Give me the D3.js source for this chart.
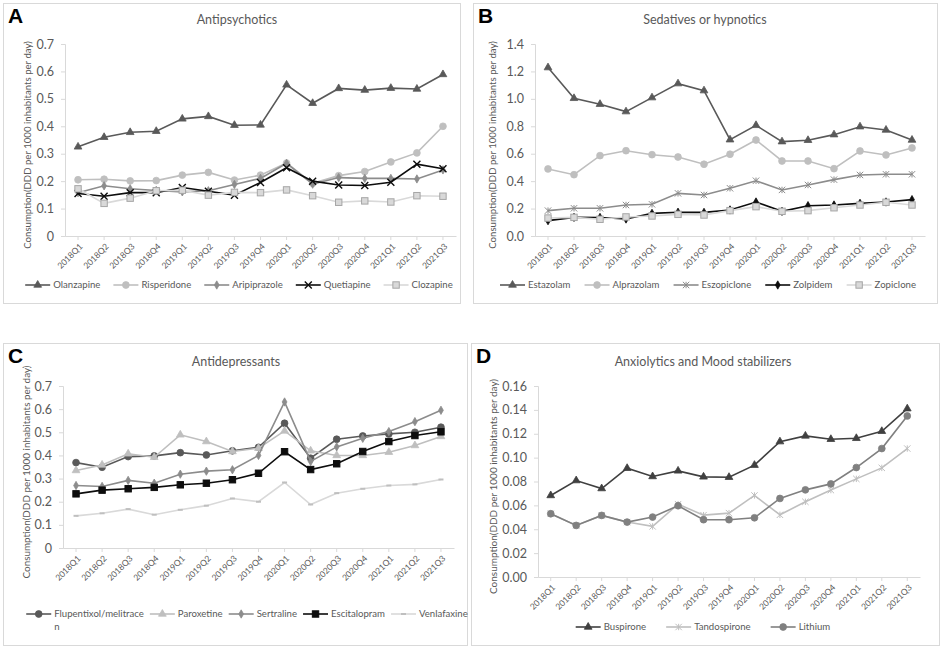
<!DOCTYPE html>
<html><head><meta charset="utf-8">
<script src="https://cdn.jsdelivr.net/npm/d3@7"></script>
<style>
body{margin:0;background:#fff}
svg{display:block}
text{font-family:Lato,"Open Sans",sans-serif}
</style>
</head><body>
<svg id="chart" width="941" height="647"></svg>
<script>
// ---------- DATA ----------
const quarters = ["2018Q1","2018Q2","2018Q3","2018Q4","2019Q1","2019Q2","2019Q3","2019Q4",
  "2020Q1","2020Q2","2020Q3","2020Q4","2021Q1","2021Q2","2021Q3"];

// A: Antipsychotics
const olanzapine   = [0.325,0.360,0.378,0.382,0.427,0.436,0.404,0.405,0.551,0.484,0.538,0.532,0.539,0.536,0.589];
const risperidone  = [0.205,0.207,0.201,0.202,0.222,0.232,0.204,0.222,0.266,0.192,0.220,0.235,0.270,0.303,0.400];
const aripiprazole = [0.158,0.183,0.172,0.166,0.161,0.165,0.188,0.210,0.265,0.189,0.213,0.210,0.210,0.208,0.241];
const quetiapine   = [0.155,0.145,0.158,0.158,0.177,0.163,0.149,0.195,0.249,0.200,0.186,0.184,0.196,0.262,0.245];
const clozapine    = [0.172,0.119,0.138,0.165,0.167,0.149,0.159,0.158,0.168,0.147,0.123,0.128,0.124,0.147,0.145];

// B: Sedatives or hypnotics
const estazolam   = [1.228,1.004,0.961,0.907,1.009,1.111,1.060,0.702,0.807,0.688,0.698,0.739,0.797,0.773,0.700];
const alprazolam  = [0.489,0.447,0.586,0.622,0.593,0.576,0.523,0.596,0.700,0.547,0.547,0.491,0.620,0.591,0.642];
const eszopiclone = [0.185,0.202,0.202,0.226,0.231,0.311,0.299,0.348,0.403,0.336,0.372,0.411,0.445,0.450,0.450];
const zolpidem    = [0.112,0.136,0.135,0.124,0.165,0.173,0.172,0.190,0.248,0.180,0.221,0.226,0.238,0.248,0.265];
const zopiclone   = [0.131,0.136,0.122,0.139,0.146,0.158,0.153,0.185,0.214,0.180,0.185,0.206,0.226,0.246,0.226];

// C: Antidepressants
const flupentixol  = [0.369,0.349,0.395,0.398,0.412,0.402,0.420,0.435,0.539,0.388,0.470,0.484,0.493,0.500,0.522];
const paroxetine   = [0.335,0.359,0.407,0.392,0.489,0.460,0.417,0.431,0.506,0.420,0.400,0.400,0.414,0.443,0.482];
const sertraline   = [0.270,0.266,0.292,0.280,0.319,0.332,0.338,0.400,0.631,0.374,0.437,0.474,0.503,0.546,0.595];
const escitalopram = [0.234,0.250,0.256,0.262,0.273,0.280,0.295,0.323,0.416,0.339,0.364,0.417,0.460,0.486,0.502];
const venlafaxine  = [0.139,0.150,0.168,0.144,0.165,0.183,0.214,0.200,0.283,0.188,0.237,0.256,0.270,0.275,0.296];

// D: Anxiolytics and Mood stabilizers
const buspirone    = [0.0683,0.0808,0.0741,0.0911,0.0842,0.0889,0.0839,0.0836,0.0937,0.1134,0.1182,0.1154,0.1162,0.1221,0.1410];
const tandospirone = [0.0530,0.0432,0.0516,0.0460,0.0424,0.0610,0.0518,0.0535,0.0683,0.0521,0.0630,0.0728,0.0822,0.0914,0.1076];
const lithium      = [0.0530,0.0432,0.0516,0.0460,0.0502,0.0597,0.0480,0.0480,0.0496,0.0658,0.0730,0.0780,0.0917,0.1076,0.1349];

// tick labels
const ticksA = [0,0.1,0.2,0.3,0.4,0.5,0.6,0.7];
const ticksB = [0,0.2,0.4,0.6,0.8,1.0,1.2,1.4];
const ticksC = [0,0.1,0.2,0.3,0.4,0.5,0.6,0.7];
const ticksD = [0,0.02,0.04,0.06,0.08,0.10,0.12,0.14,0.16];

const yTitle = "Consumption(DDD per 1000 inhabitants per day)";

// ---------- PANEL LAYOUT ----------
const fmtA = d => d === 0 ? "0" : d3.format(".1f")(d);
const panels = [
  { letter:"A", title:"Antipsychotics", box:[3,3,460,303], titleX:237, titleY:24,
    x:[65,456], y:[236,44], max:0.7, ticks:ticksA, fmt:fmtA, yTitleX:28, yTitleLen:208,
    legendY:285, legendCx:239, legendGap:13,
    series:[
      {name:"Olanzapine", v:olanzapine, color:"#595959", marker:"triangle"},
      {name:"Risperidone", v:risperidone, color:"#bfbfbf", marker:"circle"},
      {name:"Aripiprazole", v:aripiprazole, color:"#8c8c8c", marker:"diamond"},
      {name:"Quetiapine", v:quetiapine, color:"#0d0d0d", marker:"x"},
      {name:"Clozapine", v:clozapine, color:"#d9d9d9", marker:"square", mStroke:"#a6a6a6", mFill:"#d9d9d9"}
    ]},
  { letter:"B", title:"Sedatives or hypnotics", box:[473,3,937,303], titleX:705, titleY:24,
    x:[535,925], y:[236,44], max:1.4, ticks:ticksB, fmt:d3.format(".1f"), yTitleX:493, yTitleLen:208,
    legendY:285, legendCx:708, legendGap:14,
    series:[
      {name:"Estazolam", v:estazolam, color:"#595959", marker:"triangle"},
      {name:"Alprazolam", v:alprazolam, color:"#bfbfbf", marker:"circle"},
      {name:"Eszopiclone", v:eszopiclone, color:"#8c8c8c", marker:"star"},
      {name:"Zolpidem", v:zolpidem, color:"#0d0d0d", marker:"diamond"},
      {name:"Zopiclone", v:zopiclone, color:"#d9d9d9", marker:"square", mStroke:"#a6a6a6", mFill:"#d9d9d9"}
    ]},
  { letter:"C", title:"Antidepressants", box:[3,343,467,645], titleX:236, titleY:366,
    x:[63,454], y:[548,386], max:0.7, ticks:ticksC, fmt:fmtA, yTitleX:27, yTitleLen:213,
    legendY:614, legendCx:247, legendGap:6, wrapFirst:21,
    series:[
      {name:"Flupentixol/melitracen", v:flupentixol, color:"#595959", marker:"circle"},
      {name:"Paroxetine", v:paroxetine, color:"#bfbfbf", marker:"triangle"},
      {name:"Sertraline", v:sertraline, color:"#8c8c8c", marker:"diamond"},
      {name:"Escitalopram", v:escitalopram, color:"#0d0d0d", marker:"square"},
      {name:"Venlafaxine", v:venlafaxine, color:"#d9d9d9", marker:"dash", mStroke:"#bfbfbf"}
    ]},
  { letter:"D", title:"Anxiolytics and Mood stabilizers", box:[471,343,939,645], titleX:703, titleY:366,
    x:[538,920], y:[577,386], max:0.16, ticks:ticksD, fmt:d3.format(".2f"), yTitleX:493, yTitleLen:215,
    legendY:627, legendCx:703, legendGap:20,
    series:[
      {name:"Buspirone", v:buspirone, color:"#404040", marker:"triangle"},
      {name:"Tandospirone", v:tandospirone, color:"#bfbfbf", marker:"star"},
      {name:"Lithium", v:lithium, color:"#808080", marker:"circle"}
    ]}
];

const svg = d3.select("#chart");
const textCol = "#595959";
const axisCol = "#d9d9d9";

function drawMarker(g, type, cx, cy, s) {
  const stroke = s.mStroke || s.color, fill = s.mFill || s.color;
  if (type === "triangle") {
    g.append("path").attr("d", d3.symbol(d3.symbolTriangle, 26)()).attr("transform", `translate(${cx},${cy})`)
      .attr("fill", fill).attr("stroke", stroke).attr("stroke-width", 0.8);
  } else if (type === "circle") {
    g.append("circle").attr("cx", cx).attr("cy", cy).attr("r", 3.4).attr("fill", fill).attr("stroke", stroke).attr("stroke-width", 0.8);
  } else if (type === "diamond") {
    g.append("path").attr("d", d3.symbol(d3.symbolDiamond, 20)()).attr("transform", `translate(${cx},${cy})`)
      .attr("fill", fill).attr("stroke", stroke).attr("stroke-width", 0.8);
  } else if (type === "square") {
    g.append("rect").attr("x", cx - 3.2).attr("y", cy - 3.2).attr("width", 6.4).attr("height", 6.4)
      .attr("fill", fill).attr("stroke", stroke).attr("stroke-width", 1);
  } else if (type === "x") {
    const r = 3.5;
    g.append("path").attr("d", `M${cx-r},${cy-r}L${cx+r},${cy+r}M${cx-r},${cy+r}L${cx+r},${cy-r}`)
      .attr("stroke", stroke).attr("stroke-width", 1.4).attr("fill", "none");
  } else if (type === "star") {
    const r = 3.2;
    g.append("path").attr("d", `M${cx-r},${cy-r}L${cx+r},${cy+r}M${cx-r},${cy+r}L${cx+r},${cy-r}M${cx},${cy-r}L${cx},${cy+r}`)
      .attr("stroke", stroke).attr("stroke-width", 1).attr("fill", "none");
  } else if (type === "dash") {
    g.append("path").attr("d", `M${cx-2.5},${cy}L${cx+2.5},${cy}`)
      .attr("stroke", stroke).attr("stroke-width", 2).attr("fill", "none");
  }
}

panels.forEach(p => {
  const g = svg.append("g");
  // border
  g.append("rect").attr("x", p.box[0] + 0.5).attr("y", p.box[1] + 0.5)
    .attr("width", p.box[2] - p.box[0]).attr("height", p.box[3] - p.box[1])
    .attr("fill", "none").attr("stroke", axisCol).attr("stroke-width", 1);
  // letter
  g.append("text").attr("x", p.box[0] + 5).attr("y", p.box[1] + 20)
    .style("font-family", "Liberation Sans, Arial, sans-serif").style("font-weight", "bold")
    .style("font-size", "21px").attr("fill", "#000").text(p.letter);
  // title
  g.append("text").attr("x", p.titleX).attr("y", p.titleY).attr("text-anchor", "middle")
    .style("font-size", "12.5px").attr("fill", textCol).text(p.title);

  const x = d3.scaleBand().domain(quarters).range(p.x).padding(0);
  const y = d3.scaleLinear().domain([0, p.max]).range(p.y);

  // y axis
  const ya = g.append("g").attr("transform", `translate(${p.x[0]},0)`)
    .call(d3.axisLeft(y).tickValues(p.ticks).tickFormat(p.fmt).tickSize(4).tickPadding(7));
  ya.select(".domain").attr("stroke", axisCol);
  ya.selectAll(".tick line").attr("stroke", axisCol);
  ya.selectAll(".tick text").attr("fill", textCol).style("font-size", "12.5px").style("font-family", "Lato, sans-serif");

  // x axis
  const xa = g.append("g").attr("transform", `translate(0,${p.y[0]})`)
    .call(d3.axisBottom(x).tickSize(4).tickSizeOuter(0));
  xa.select(".domain").attr("stroke", axisCol);
  xa.selectAll(".tick line").attr("stroke", axisCol);
  xa.selectAll(".tick text").attr("fill", textCol).style("font-size", "8.5px").style("font-family", "Lato, sans-serif")
    .attr("text-anchor", "end").attr("dy", "0.35em").attr("y", 0)
    .attr("transform", "translate(3,9) rotate(-45)");

  // y title
  const yt = g.append("text").attr("transform", `translate(${p.yTitleX},${(p.y[0] + p.y[1]) / 2 + 5}) rotate(-90)`)
    .attr("text-anchor", "middle").attr("dy", "0.35em").style("font-size", "11px").attr("fill", textCol).text(yTitle);
  const len = yt.node().getComputedTextLength();
  yt.style("font-size", (11 * p.yTitleLen / len).toFixed(2) + "px");

  // series
  const line = d3.line().x((d, i) => x(quarters[i]) + x.bandwidth() / 2).y(d => y(d));
  p.series.forEach(s => {
    const sg = g.append("g");
    sg.append("path").attr("d", line(s.v)).attr("fill", "none").attr("stroke", s.color).attr("stroke-width", 1.6);
    s.v.forEach((d, i) => drawMarker(sg, s.marker, x(quarters[i]) + x.bandwidth() / 2, y(d), s));
  });

  // legend
  const lg = g.append("g");
  let cx = 0;
  p.series.forEach((s, k) => {
    const ig = lg.append("g").attr("transform", `translate(${cx},0)`);
    ig.append("line").attr("x1", 0).attr("x2", 25).attr("y1", 0).attr("y2", 0).attr("stroke", s.color).attr("stroke-width", 1.6);
    drawMarker(ig, s.marker, 12.5, 0, s);
    const t = ig.append("text").attr("x", 28).attr("y", 0).attr("dy", "0.35em")
      .style("font-size", "9.6px").attr("fill", textCol);
    if (k === 0 && p.wrapFirst) {
      t.append("tspan").attr("x", 28).text(s.name.slice(0, p.wrapFirst));
      t.append("tspan").attr("x", 28).attr("dy", "1.35em").text(s.name.slice(p.wrapFirst));
    } else t.text(s.name);
    const w = t.node().getBBox().width;
    cx += 28 + w + p.legendGap;
  });
  const total = cx - p.legendGap;
  lg.attr("transform", `translate(${p.legendCx - total / 2},${p.legendY})`);
});
</script>
</body></html>
